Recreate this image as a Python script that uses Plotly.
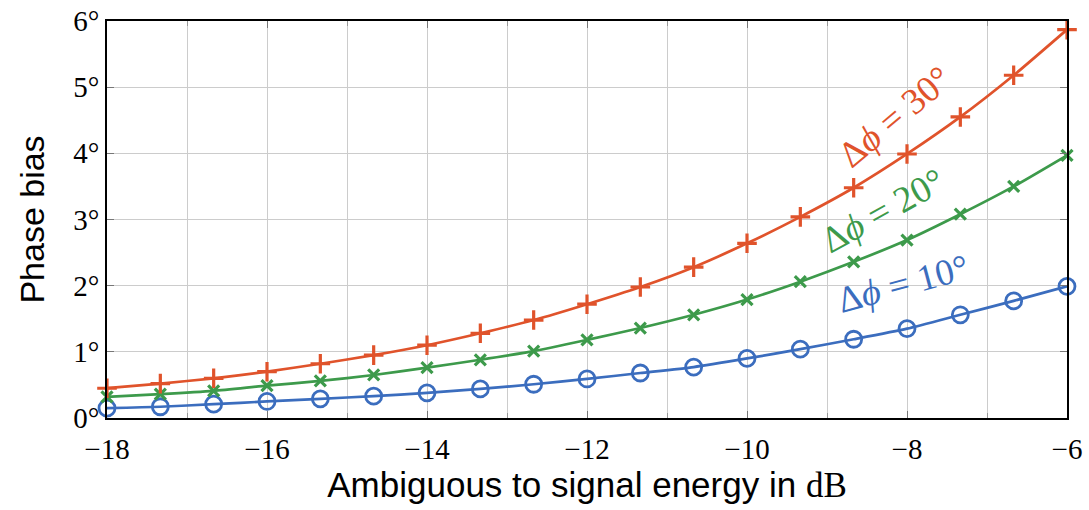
import plotly.graph_objects as go

# Ratio of ambiguous to signal energy (dB), sampled every 2/3 dB
x_db = [-18 + 2 * k / 3 for k in range(19)]

# Phase bias in degrees for the three phase offsets
bias_30 = [0.45, 0.52, 0.60, 0.70, 0.82, 0.95, 1.10, 1.28, 1.48, 1.72,
           1.98, 2.28, 2.64, 3.04, 3.48, 3.99, 4.55, 5.18, 5.87]
bias_20 = [0.32, 0.36, 0.41, 0.49, 0.56, 0.65, 0.76, 0.88, 1.01, 1.18,
           1.36, 1.56, 1.79, 2.06, 2.36, 2.69, 3.08, 3.50, 3.97]
bias_10 = [0.15, 0.17, 0.21, 0.25, 0.29, 0.33, 0.38, 0.44, 0.51, 0.59,
           0.68, 0.77, 0.90, 1.04, 1.19, 1.35, 1.56, 1.77, 1.99]

x_ticks = [-18, -16, -14, -12, -10, -8, -6]
x_tick_text = ["\u221218", "\u221216", "\u221214", "\u221212", "\u221210", "\u22128", "\u22126"]
y_ticks = [0, 1, 2, 3, 4, 5, 6]
y_tick_text = [f"{v}\u00b0" for v in y_ticks]

RED = "#e0532b"
GREEN = "#3d9a4b"
BLUE = "#3b6dbe"
SERIF = "Liberation Serif"
SANS = "Liberation Sans"

fig = go.Figure()

series = [
    (bias_10, BLUE, "circle-open", 16, 2.8),
    (bias_20, GREEN, "x-thin", 11, 3.2),
    (bias_30, RED, "cross-thin", 14, 3.2),
]
for ys, col, sym, size, mlw in series:
    fig.add_trace(go.Scatter(
        x=x_db, y=ys, mode="lines+markers",
        line=dict(color=col, width=2.7, shape="spline", smoothing=0.6),
        marker=dict(symbol=sym, size=size, color=col, line=dict(color=col, width=mlw)),
        cliponaxis=False, showlegend=False,
    ))

labels = [
    ("\u0394<i>\u03d5</i> = 30\u00b0", -8.15, 4.55, -40, RED),
    ("\u0394<i>\u03d5</i> = 20\u00b0", -8.30, 3.13, -29, GREEN),
    ("\u0394<i>\u03d5</i> = 10\u00b0", -8.05, 2.03, -15, BLUE),
]
for txt, lx, ly, ang, col in labels:
    fig.add_annotation(x=lx, y=ly, text=txt, showarrow=False, textangle=ang,
                       font=dict(family=SERIF, size=37, color=col))

axis_common = dict(
    showline=True, linecolor="#000000", linewidth=1.5, mirror="ticks",
    ticks="inside", ticklen=7, tickwidth=1.3, tickcolor="#777777",
    gridcolor="#cccccc", gridwidth=1.4, zeroline=False, automargin=False,
    tickfont=dict(family=SERIF, size=29, color="#000000"),
)

fig.update_xaxes(
    range=[-18, -6], tickmode="array", tickvals=x_ticks, ticktext=x_tick_text,
    ticklabelstandoff=4,
    minor=dict(dtick=1, tick0=-18, showgrid=True, gridcolor="#cccccc", gridwidth=1.4,
               ticks="inside", ticklen=5, tickcolor="#999999"),
    title=dict(text='Ambiguous to signal energy in <span style="font-family:Liberation Serif">dB</span>',
               font=dict(family=SANS, size=35, color="#000000"), standoff=8),
    **axis_common,
)
fig.update_yaxes(
    range=[0, 6], tickmode="array", tickvals=y_ticks, ticktext=y_tick_text,
    title=dict(text="Phase bias", font=dict(family=SANS, size=34, color="#000000"), standoff=18),
    **axis_common,
)

fig.update_layout(
    width=1089, height=510,
    margin=dict(l=107, r=22, t=21, b=92),
    paper_bgcolor="#ffffff", plot_bgcolor="#ffffff",
)

fig.write_html("out.html")
